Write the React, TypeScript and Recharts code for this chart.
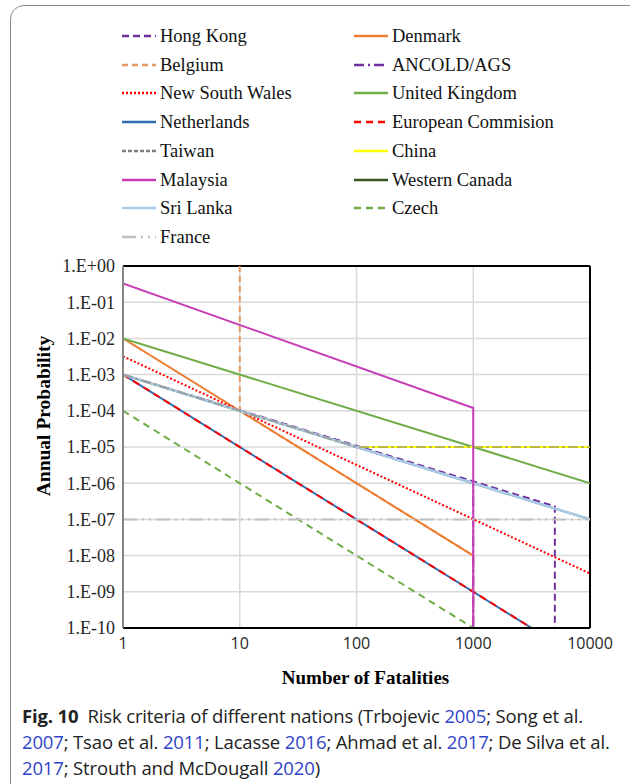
import React from "react"
import {
    LineChart,
    Line,
    XAxis,
    YAxis,
    CartesianGrid,
    ReferenceLine,
} from "recharts"

type Pt = { x: number; y: number }

// fatalities (N) vs annual probability (F)
const hongKong: Pt[] = [{ x: 1, y: 1e-3 }, { x: 5000, y: 2.3e-7 }, { x: 5000, y: 1e-10 }]
const denmark: Pt[] = [{ x: 1, y: 1e-2 }, { x: 1000, y: 1e-8 }]
const belgium: Pt[] = [{ x: 10, y: 1 }, { x: 10, y: 1e-4 }, { x: 1000, y: 1e-8 }, { x: 1000, y: 1e-10 }]
const ancold: Pt[] = [{ x: 1, y: 1e-3 }, { x: 1000, y: 1e-6 }, { x: 1000, y: 1e-10 }]
const newSouthWales: Pt[] = [{ x: 1, y: 3.2e-3 }, { x: 10000, y: 3.2e-9 }]
const unitedKingdom: Pt[] = [{ x: 1, y: 1e-2 }, { x: 10000, y: 1e-6 }]
const netherlands: Pt[] = [{ x: 1, y: 1e-3 }, { x: 3162, y: 1e-10 }]
const europeanCommision: Pt[] = [{ x: 1, y: 1e-3 }, { x: 3162, y: 1e-10 }]
const taiwan: Pt[] = [{ x: 1, y: 1e-3 }, { x: 100, y: 1e-5 }, { x: 10000, y: 1e-5 }]
const china: Pt[] = [{ x: 1, y: 1e-3 }, { x: 100, y: 1e-5 }, { x: 10000, y: 1e-5 }]
const malaysia: Pt[] = [{ x: 1, y: 0.33 }, { x: 1000, y: 1.2e-4 }, { x: 1000, y: 1e-10 }]
const westernCanada: Pt[] = [{ x: 1, y: 1e-3 }, { x: 10000, y: 1e-7 }]
const sriLanka: Pt[] = [{ x: 1, y: 1e-3 }, { x: 10000, y: 1e-7 }]
const czech: Pt[] = [{ x: 1, y: 1e-4 }, { x: 1000, y: 1e-10 }]
const france: Pt[] = [{ x: 1, y: 1e-7 }, { x: 10000, y: 1e-7 }]

const xTicks = [1, 10, 100, 1000, 10000]
const yTicks = [1e-10, 1e-9, 1e-8, 1e-7, 1e-6, 1e-5, 1e-4, 1e-3, 1e-2, 1e-1, 1]

type Series = {
    name: string
    data: Pt[]
    color: string
    dash?: string
    width?: number
}

// legend order (row by row, two columns)
const SERIES: Series[] = [
    { name: "Hong Kong", data: hongKong, color: "#7030A0", dash: "7 4" },
    { name: "Denmark", data: denmark, color: "#ED7D31" },
    { name: "Belgium", data: belgium, color: "#E49A62", dash: "6 4" },
    { name: "ANCOLD/AGS", data: ancold, color: "#7030A0", dash: "10 4 2 4" },
    { name: "New South Wales", data: newSouthWales, color: "#FF0000", dash: "2 2" },
    { name: "United Kingdom", data: unitedKingdom, color: "#70AD47" },
    { name: "Netherlands", data: netherlands, color: "#2E6DB0" },
    { name: "European Commision", data: europeanCommision, color: "#FF0000", dash: "7 5" },
    { name: "Taiwan", data: taiwan, color: "#7F7F7F", dash: "4 2" },
    { name: "China", data: china, color: "#FFFF00" },
    { name: "Malaysia", data: malaysia, color: "#C83CB4" },
    { name: "Western Canada", data: westernCanada, color: "#375623" },
    { name: "Sri Lanka", data: sriLanka, color: "#A9CBE8", width: 2.5 },
    { name: "Czech", data: czech, color: "#70AD47", dash: "7 5" },
    { name: "France", data: france, color: "#BFBFBF", dash: "14 5 2 5 2 5" },
]

// drawing order (later on top)
const DRAW_ORDER = [
    "Belgium", "Western Canada", "Hong Kong", "Denmark", "ANCOLD/AGS",
    "New South Wales", "United Kingdom", "Netherlands", "European Commision",
    "China", "Sri Lanka", "Malaysia", "Czech", "France",
]

const fmtY = (v: number) => {
    const e = Math.round(Math.log10(v))
    return `1.E${e >= 0 ? "+" : "-"}${String(Math.abs(e)).padStart(2, "0")}`
}

const serif = "'Liberation Serif', 'Times New Roman', serif"
const sans = "'Open Sans', 'Noto Sans', sans-serif"
const LINK = "#2F45C8"

const LegendBlock = () => (
    <div style={{ position: "absolute", left: 0, top: 0 }}>
        {SERIES.map((s, i) => {
            const col = i % 2
            const row = Math.floor(i / 2)
            const cy = 36 + row * 28.7
            const sx = col === 0 ? 122 : 354
            const tx = col === 0 ? 160 : 392
            return (
                <React.Fragment key={s.name}>
                    <svg
                        width={36}
                        height={8}
                        style={{ position: "absolute", left: sx, top: cy - 4 }}
                    >
                        <line
                            x1={0}
                            x2={34}
                            y1={4}
                            y2={4}
                            stroke={s.color}
                            strokeWidth={2.5}
                            strokeDasharray={s.dash}
                        />
                    </svg>
                    <span
                        style={{
                            position: "absolute",
                            left: tx,
                            top: cy - 11,
                            fontFamily: serif,
                            fontSize: 18.5,
                            lineHeight: "22px",
                            whiteSpace: "nowrap",
                            color: "#111",
                        }}
                    >
                        {s.name}
                    </span>
                </React.Fragment>
            )
        })}
    </div>
)

const Cite = ({ y }: { y: string }) => <span style={{ color: LINK }}>{y}</span>

export default function App() {
    const byName = (n: string) => SERIES.find((s) => s.name === n)!
    return (
        <div
            style={{
                position: "absolute",
                left: 0,
                top: 0,
                width: 630,
                height: 784,
                overflow: "hidden",
                background: "#fff",
            }}
        >
            <div
                style={{
                    position: "absolute",
                    left: 10,
                    top: 5,
                    width: 700,
                    height: 800,
                    border: "1.5px solid #8a8a8a",
                    borderRadius: 14,
                }}
            />
            <LegendBlock />
            <div style={{ position: "absolute", left: 0, top: 0 }}>
                <LineChart
                    width={630}
                    height={700}
                    margin={{ top: 266, right: 40, bottom: 0, left: 0 }}
                >
                    <CartesianGrid stroke="#D9D9D9" strokeWidth={1.5} />
                    <XAxis
                        dataKey="x"
                        type="number"
                        scale="log"
                        domain={[1, 10000]}
                        ticks={xTicks}
                        allowDataOverflow
                        height={72}
                        tickSize={0}
                        tickMargin={10}
                        axisLine={{ stroke: "#000", strokeWidth: 2 }}
                        tick={{ fontFamily: sans, fontSize: 16, fill: "#262626" }}
                        label={{
                            content: ({ viewBox }: any) => (
                                <text
                                    x={viewBox.x + viewBox.width / 2 + 9}
                                    y={viewBox.y + 56}
                                    textAnchor="middle"
                                    fontFamily={serif}
                                    fontWeight="bold"
                                    fontSize={19}
                                    fill="#000"
                                >
                                    Number of Fatalities
                                </text>
                            ),
                        }}
                    />
                    <YAxis
                        dataKey="y"
                        type="number"
                        scale="log"
                        domain={[1e-10, 1]}
                        ticks={yTicks}
                        allowDataOverflow
                        width={123}
                        tickSize={0}
                        tickMargin={8}
                        tickFormatter={fmtY}
                        axisLine={{ stroke: "#868686", strokeWidth: 2 }}
                        tick={{ fontFamily: serif, fontSize: 18, fill: "#262626" }}
                        label={{
                            content: () => (
                                <text
                                    x={50}
                                    y={416}
                                    transform="rotate(-90, 50, 416)"
                                    textAnchor="middle"
                                    fontFamily={serif}
                                    fontWeight="bold"
                                    fontSize={19.5}
                                    fill="#000"
                                >
                                    Annual Probability
                                </text>
                            ),
                        }}
                    />
                    <ReferenceLine y={1} stroke="#000" strokeWidth={2} />
                    <ReferenceLine x={10000} stroke="#000" strokeWidth={2} />
                    {DRAW_ORDER.map((n) => {
                        const s = byName(n)
                        return (
                            <Line
                                key={n}
                                data={s.data}
                                dataKey="y"
                                type="linear"
                                stroke={s.color}
                                strokeWidth={s.width ?? 2}
                                strokeDasharray={s.dash}
                                dot={false}
                                activeDot={false}
                                isAnimationActive={false}
                            />
                        )
                    })}
                    <Line
                        data={byName("Taiwan").data}
                        dataKey="y"
                        type="linear"
                        stroke="#7F7F7F"
                        strokeOpacity={0.55}
                        strokeWidth={2}
                        strokeDasharray="10 3 3 3"
                        dot={false}
                        activeDot={false}
                        isAnimationActive={false}
                    />
                </LineChart>
            </div>
            <div
                style={{
                    position: "absolute",
                    left: 22,
                    top: 703,
                    fontFamily: sans,
                    fontSize: 18.5,
                    lineHeight: "26px",
                    color: "#222",
                    letterSpacing: -0.15,
                    whiteSpace: "nowrap",
                }}
            >
                <b>Fig. 10</b>
                {"\u2002"}Risk criteria of different nations (Trbojevic <Cite y="2005" />; Song et al.
                <br />
                <Cite y="2007" />; Tsao et al. <Cite y="2011" />; Lacasse <Cite y="2016" />; Ahmad et al.{" "}
                <Cite y="2017" />; De Silva et al.
                <br />
                <Cite y="2017" />; Strouth and McDougall <Cite y="2020" />)
            </div>
        </div>
    )
}
